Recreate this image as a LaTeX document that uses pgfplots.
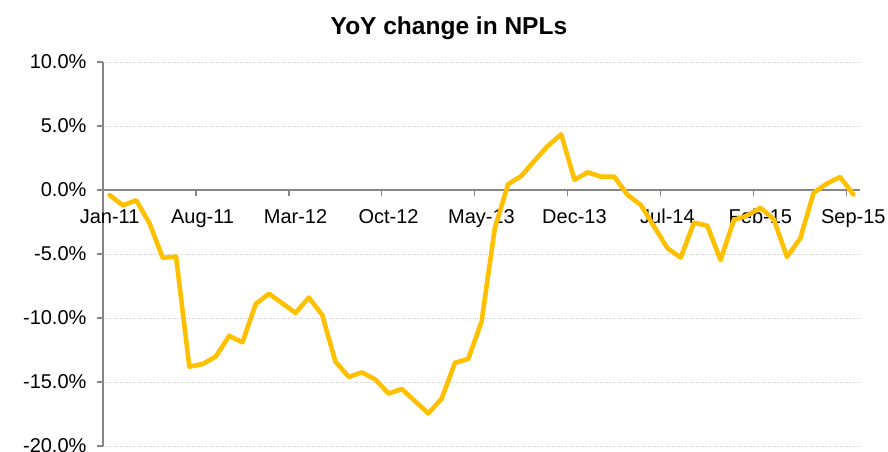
\documentclass[border=0pt]{standalone}
\usepackage{fontspec}
\setmainfont{Liberation Sans}
\usepackage{pgfplots}
\pgfplotsset{compat=1.18}
\definecolor{npl}{RGB}{255,192,0}
\definecolor{axgray}{RGB}{134,134,134}
\definecolor{gridgray}{RGB}{205,205,205}
\begin{document}
\begin{tikzpicture}
\useasboundingbox (0,0) rectangle (888pt,452pt);
\begin{axis}[
  scale only axis,
  width=757pt, height=384pt,
  at={(103pt,6pt)}, anchor=south west,
  xmin=-0.5, xmax=56.5, ymin=-20, ymax=10,
  axis x line=middle, axis y line=left,
  axis line style={-, draw=axgray, line width=1.3pt},
  tick align=outside,
  hide obscured x ticks=false, hide obscured y ticks=false,
  xtick={0,7,...,56},
  xticklabels={Jan-11,Aug-11,Mar-12,Oct-12,May-13,Dec-13,Jul-14,Feb-15,Sep-15},
  every major x tick/.append style={draw=none},
  minor xtick={6.5,13.5,...,55.5},
  major tick length=6pt, minor tick length=6pt,
  tick style={draw=axgray, line width=1.2pt},
  ytick={-20,-15,...,10},
  yticklabels={-20.0\%,-15.0\%,-10.0\%,-5.0\%,0.0\%,5.0\%,10.0\%},
  ymajorgrids,
  grid style={dotted, draw=gridgray, line width=0.9pt},
  ticklabel style={font=\fontsize{20}{23}\selectfont, text=black},
  xticklabel style={anchor=base, yshift=-28pt},
  yticklabel style={anchor=east, xshift=-7pt},
  title={\bfseries\fontsize{24.5}{28}\selectfont YoY change in NPLs},
  title style={at={(0.457,1)}, anchor=base, yshift=21pt},
]
\addplot[npl, line width=4.6pt, line join=round, line cap=round, mark=none] table[x=i, y=v] {
i v
0 -0.4
1 -1.2
2 -0.8
3 -2.6
4 -5.3
5 -5.2
6 -13.8
7 -13.6
8 -13.0
9 -11.4
10 -11.9
11 -8.9
12 -8.1
13 -8.85
14 -9.6
15 -8.4
16 -9.75
17 -13.4
18 -14.6
19 -14.25
20 -14.8
21 -15.9
22 -15.55
23 -16.5
24 -17.45
25 -16.3
26 -13.5
27 -13.2
28 -10.3
29 -3.0
30 0.45
31 1.1
32 2.3
33 3.45
34 4.35
35 0.8
36 1.38
37 1.04
38 1.04
39 -0.39
40 -1.17
41 -2.86
42 -4.55
43 -5.28
44 -2.55
45 -2.79
46 -5.47
47 -2.34
48 -2.0
49 -1.4
50 -2.27
51 -5.23
52 -3.78
53 -0.23
54 0.5
55 1.02
56 -0.35
};
\end{axis}
\end{tikzpicture}
\end{document}
